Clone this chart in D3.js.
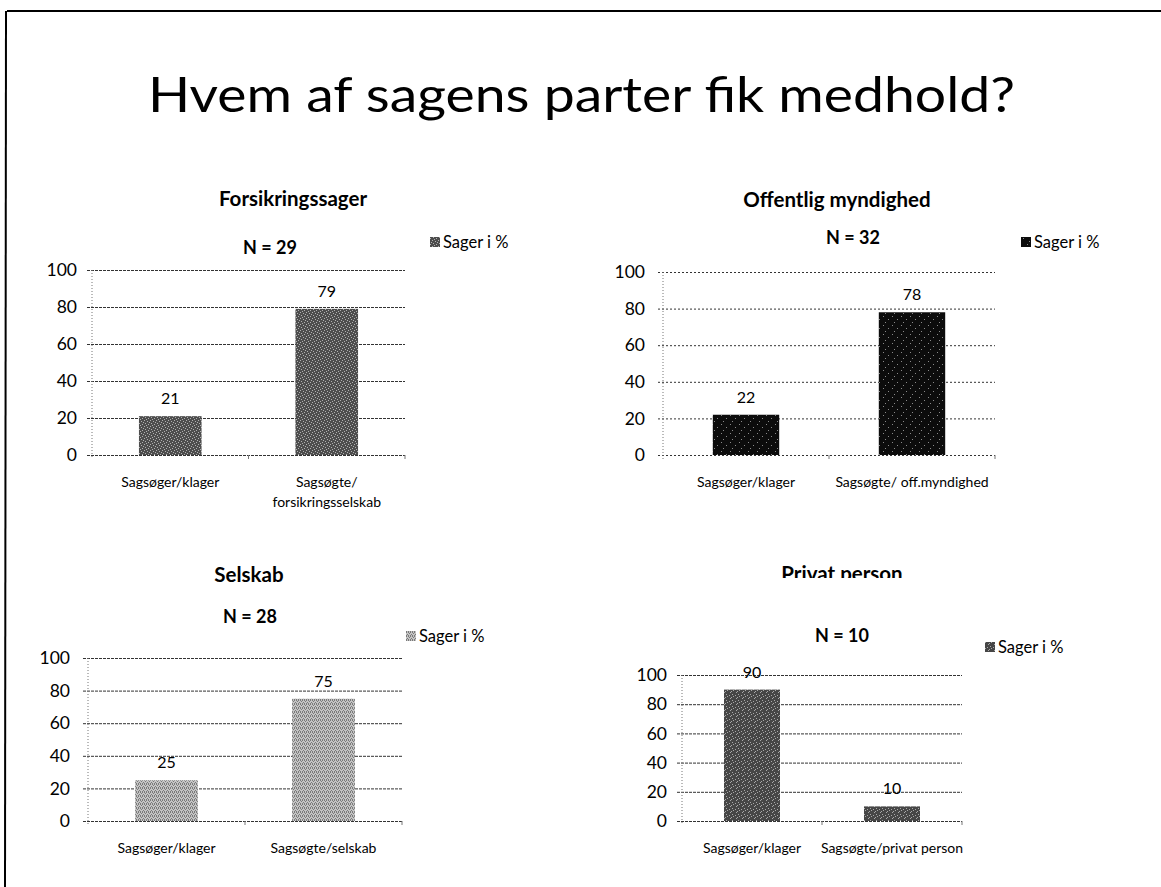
<!DOCTYPE html>
<html>
<head>
<meta charset="utf-8">
<script src="https://cdn.jsdelivr.net/npm/d3@7"></script>
<style>
  body { margin: 0; background: #fff; }
  svg { display: block; font-family: Lato, "Open Sans", sans-serif; }
</style>
</head>
<body>
<script>
// chart values
const mainTitle = "Hvem af sagens parter fik medhold?";
const panelTitles = ["Forsikringssager", "Offentlig myndighed", "Selskab", "Privat person"];
const panelN = ["N = 29", "N = 32", "N = 28", "N = 10"];
const legendLabel = "Sager i %";
const categoriesForsikring = ["Sagsøger/klager", "Sagsøgte/|forsikringsselskab"];
const categoriesOffentlig = ["Sagsøger/klager", "Sagsøgte/ off.myndighed"];
const categoriesSelskab = ["Sagsøger/klager", "Sagsøgte/selskab"];
const categoriesPrivat = ["Sagsøger/klager", "Sagsøgte/privat person"];
const valuesForsikring = [21, 79];
const valuesOffentlig = [22, 78];
const valuesSelskab = [25, 75];
const valuesPrivat = [90, 10];
const yTicks = [0, 20, 40, 60, 80, 100];

const width = 1161, height = 887;

const svg = d3.select("body").append("svg")
  .attr("width", width)
  .attr("height", height);

const defs = svg.append("defs");

// halftone-ish fills, like the scanned print
function makePattern(id, base, dotColor, dots, size) {
  const p = defs.append("pattern")
    .attr("id", id)
    .attr("patternUnits", "userSpaceOnUse")
    .attr("width", size).attr("height", size);
  p.append("rect").attr("width", size).attr("height", size).attr("fill", base);
  dots.forEach(d => {
    p.append("rect").attr("x", d[0]).attr("y", d[1]).attr("width", 1).attr("height", 1).attr("fill", dotColor);
  });
}
makePattern("pat0", "#4d4d4d", "#b0b0b0", [[0,0],[3,1],[1,3],[4,4],[2,5],[5,2]], 6);
makePattern("pat1", "#0c0c0c", "#8a8a8a", [[1,1],[6,4],[3,7]], 9);
makePattern("pat2", "#c4c4c4", "#7a7a7a", [[0,0],[2,0],[1,1],[3,2],[0,3],[2,3]], 4);
makePattern("pat3", "#464646", "#a8a8a8", [[1,0],[4,2],[0,4],[3,5],[5,1]], 6);

// slide frame
svg.append("line").attr("x1", 7).attr("y1", 11).attr("x2", width).attr("y2", 11)
  .attr("stroke", "#000").attr("stroke-width", 2);
svg.append("line").attr("x1", 6).attr("y1", 11).attr("x2", 5).attr("y2", height)
  .attr("stroke", "#000").attr("stroke-width", 2);

svg.append("text")
  .attr("x", 148).attr("y", 112)
  .attr("font-size", 48)
  .attr("textLength", 867)
  .attr("lengthAdjust", "spacingAndGlyphs")
  .attr("fill", "#000")
  .text(mainTitle);

const panels = [
  { cats: categoriesForsikring, vals: valuesForsikring, fill: "url(#pat0)",
    x0: 92, x1: 405, yTop: 270, yBot: 455, titleX: 293, titleY: 206, nX: 270, nY: 254,
    legX: 430, legY: 248, labelRight: 77 },
  { cats: categoriesOffentlig, vals: valuesOffentlig, fill: "url(#pat1)",
    x0: 663, x1: 995, yTop: 272, yBot: 455, titleX: 837, titleY: 207, nX: 853, nY: 244,
    legX: 1021, legY: 248, labelRight: 645 },
  { cats: categoriesSelskab, vals: valuesSelskab, fill: "url(#pat2)",
    x0: 88, x1: 402, yTop: 658, yBot: 821, titleX: 249, titleY: 582, nX: 250, nY: 623,
    legX: 406, legY: 642, labelRight: 70 },
  { cats: categoriesPrivat, vals: valuesPrivat, fill: "url(#pat3)",
    x0: 682, x1: 962, yTop: 675, yBot: 821, titleX: 842, titleY: 581, nX: 842, nY: 642,
    legX: 985, legY: 653, labelRight: 667, clipTitle: 578 }
];

panels.forEach((p, i) => {
  const g = svg.append("g");

  const x = d3.scaleBand()
    .domain(p.cats)
    .range([p.x0, p.x1])
    .paddingInner(0.6)
    .paddingOuter(0.3);

  const y = d3.scaleLinear()
    .domain([0, 100])
    .range([p.yBot, p.yTop]);

  // panel title (the last one is cut off in the original)
  const title = g.append("text")
    .attr("x", p.titleX).attr("y", p.titleY)
    .attr("text-anchor", "middle")
    .attr("font-size", 20.5)
    .attr("font-weight", "bold")
    .text(panelTitles[i]);
  if (p.clipTitle) {
    defs.append("clipPath").attr("id", "clipTitle" + i)
      .append("rect").attr("x", 0).attr("y", 0).attr("width", width).attr("height", p.clipTitle);
    title.attr("clip-path", `url(#clipTitle${i})`);
  }

  g.append("text")
    .attr("x", p.nX).attr("y", p.nY)
    .attr("text-anchor", "middle")
    .attr("font-size", 18)
    .attr("font-weight", "bold")
    .text(panelN[i]);

  // legend
  g.append("rect")
    .attr("x", p.legX).attr("y", p.legY - 11)
    .attr("width", 10).attr("height", 10)
    .attr("fill", p.fill);
  g.append("text")
    .attr("x", p.legX + 13).attr("y", p.legY)
    .attr("font-size", 16.5)
    .text(legendLabel);

  // y axis with gridlines
  const yAxis = g.append("g")
    .attr("transform", `translate(${p.x0 - 5},0)`)
    .call(d3.axisLeft(y)
      .tickValues(yTicks)
      .tickSize(-(p.x1 - p.x0 + 5))
      .tickPadding(p.x0 - 5 - p.labelRight));
  yAxis.select(".domain").remove();
  yAxis.selectAll(".tick line")
    .attr("stroke", "#333")
    .attr("stroke-width", 1)
    .attr("stroke-dasharray", i === 1 ? "2,2" : "3,1");
  yAxis.selectAll(".tick text")
    .attr("font-family", "Lato, sans-serif")
    .attr("font-size", 17.5)
    .attr("fill", "#000");

  // vertical axis line, dotted
  g.append("line")
    .attr("x1", p.x0).attr("x2", p.x0)
    .attr("y1", p.yTop).attr("y2", p.yBot + 4)
    .attr("stroke", "#777")
    .attr("stroke-dasharray", "1,2");

  // small category ticks below the base
  const bounds = [x.range()[0] + x.step() * 1.0, p.x1];
  bounds.forEach(b => {
    g.append("line")
      .attr("x1", b).attr("x2", b)
      .attr("y1", p.yBot).attr("y2", p.yBot + 4)
      .attr("stroke", "#777");
  });

  // bars
  g.selectAll("rect.bar")
    .data(p.vals)
    .join("rect")
    .attr("class", "bar")
    .attr("x", (d, j) => x(p.cats[j]))
    .attr("y", d => y(d))
    .attr("width", x.bandwidth())
    .attr("height", d => y(0) - y(d))
    .attr("fill", p.fill);

  // data labels
  g.selectAll("text.val")
    .data(p.vals)
    .join("text")
    .attr("class", "val")
    .attr("x", (d, j) => x(p.cats[j]) + x.bandwidth() / 2)
    .attr("y", d => y(d) - 12)
    .attr("text-anchor", "middle")
    .attr("font-size", 16)
    .text(d => d);

  // category labels
  const xAxis = g.append("g")
    .attr("transform", `translate(0,${p.yBot})`)
    .call(d3.axisBottom(x).tickSize(0).tickPadding(0));
  xAxis.select(".domain").remove();
  xAxis.selectAll(".tick text")
    .attr("font-family", "Lato, sans-serif")
    .attr("font-size", 14)
    .attr("fill", "#000")
    .attr("dy", null)
    .attr("y", 0)
    .text(null)
    .each(function(d) {
      const lines = d.split("|");
      lines.forEach((t, k) => {
        d3.select(this).append("tspan")
          .attr("x", 0)
          .attr("y", 32 + k * 20)
          .text(t);
      });
    });
});
</script>
</body>
</html>
